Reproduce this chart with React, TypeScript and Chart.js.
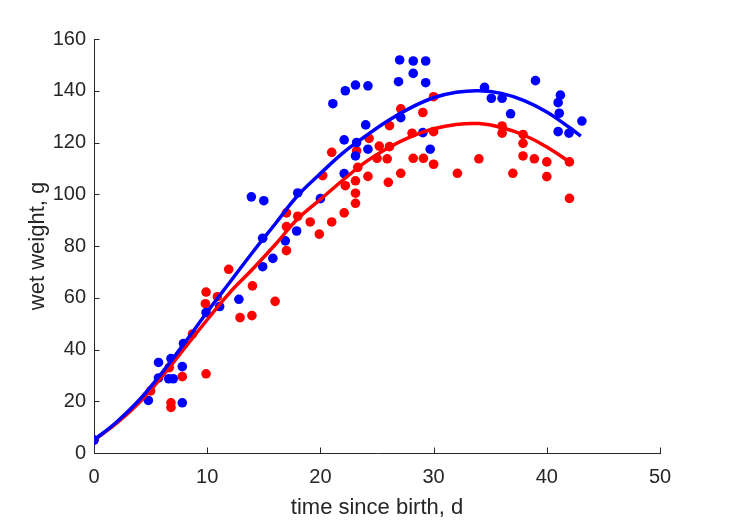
import React, { useEffect, useRef } from "react";
import { Chart, registerables } from "chart.js";

Chart.register(...registerables);

// Observed data: [time since birth (d), wet weight (g)]
const blueX = [0, 4.8, 5.7, 5.7, 6.6, 7.0, 6.8, 7.8, 7.8, 7.9, 9.9, 11.1, 12.8, 13.9, 15.0, 14.9, 14.9, 15.8, 16.9, 17.9, 18.0, 20.0, 21.1, 22.2, 23.1, 24.2, 24.0, 27.0, 28.2, 29.3, 28.2, 26.9, 29.3, 27.1, 29.05, 22.1, 23.2, 24.2, 23.1, 29.7, 22.1, 34.5, 35.1, 36.05, 39.0, 36.8, 41.2, 41.0, 41.1, 41.0, 41.96, 43.1];
const blueY = [5, 20.3, 35, 29, 28.7, 28.7, 36.5, 33.4, 19.4, 42.3, 54.3, 56.6, 59.4, 99, 97.5, 83, 72, 75.2, 82, 85.8, 100.5, 98.3, 135, 140, 142.2, 141.9, 126.8, 151.9, 151.5, 151.5, 146.7, 143.5, 143.1, 129.6, 123.8, 121, 120, 117.4, 114.8, 117.4, 108, 141.3, 137.1, 137.1, 143.9, 131.1, 138.3, 135.4, 131.3, 124.2, 123.6, 128.3];

const redX = [0, 5.0, 6.65, 6.8, 6.8, 7.8, 8.7, 9.9, 9.84, 10.9, 9.9, 11.9, 12.9, 13.95, 14.0, 16.0, 17.0, 17.0, 17.0, 18.0, 19.1, 19.9, 21.0, 22.1, 20.2, 21.0, 22.2, 23.1, 23.1, 23.1, 24.2, 23.3, 23.2, 24.3, 25.0, 25.2, 26.1, 25.9, 26.0, 27.1, 26.1, 27.1, 28.1, 28.2, 29.05, 29.1, 30.0, 30.0, 30.0, 32.1, 34.0, 36.05, 36.05, 37.0, 37.9, 37.9, 37.9, 38.9, 40.0, 40.0, 42.0, 42.0];
const redY = [5, 24, 33, 19.4, 17.6, 29.5, 46, 62.2, 57.7, 60.4, 30.6, 71, 52.3, 53.1, 64.6, 58.6, 92.8, 87.5, 78.2, 91.5, 89.3, 84.6, 89.3, 92.8, 107.2, 116.2, 103.3, 105.2, 100.4, 96.5, 106.9, 110.4, 116.8, 121.6, 113.9, 118.6, 118.4, 113.7, 104.6, 108.1, 126.5, 133, 123.6, 113.9, 131.6, 113.9, 137.7, 124.2, 111.6, 108.1, 113.7, 126.4, 123.6, 108.1, 123.1, 119.7, 114.8, 113.7, 112.5, 106.8, 112.5, 98.4];

// Fitted curves
const blueCurveX = [0, 2, 4, 6, 8, 10, 12, 14, 16, 18, 20, 22, 24, 26, 28, 30, 32, 34, 36, 38, 40, 42, 43];
const blueCurveY = [5, 12, 20.5, 31, 42.5, 54.5, 66, 77.5, 88.5, 99.5, 108, 116, 122.5, 128.5, 133.5, 137.3, 139.4, 140, 139, 136.2, 131.8, 125.8, 122.5];
const redCurveX = [0, 2, 4, 6, 8, 10, 12, 14, 16, 18, 20, 22, 24, 26, 28, 30, 32, 34, 36, 38, 40, 42];
const redCurveY = [5, 11.5, 19.5, 29.5, 40.5, 51.5, 62, 71, 80.5, 90.5, 98, 105.5, 112.5, 118, 122.3, 125.3, 127, 127.3, 125.8, 122.8, 118.3, 112.5];

const xTicks = [0, 10, 20, 30, 40, 50];
const yTicks = [0, 20, 40, 60, 80, 100, 120, 140, 160];

const zip = (xs: number[], ys: number[]) => xs.map((x, i) => ({ x, y: ys[i] }));

const AXIS = "#262626";
const FONT = "'Liberation Sans', Arial, Helvetica, sans-serif";

const inwardTicks = {
  id: "inwardTicks",
  afterDraw(chart: any) {
    const { ctx, chartArea, scales } = chart;
    const len = 5.5;
    ctx.save();
    ctx.strokeStyle = AXIS;
    ctx.lineWidth = 1;
    ctx.beginPath();
    scales.x.ticks.forEach((t: any) => {
      const px = Math.round(scales.x.getPixelForValue(t.value)) + 0.5;
      ctx.moveTo(px, chartArea.bottom);
      ctx.lineTo(px, chartArea.bottom - len);
    });
    scales.y.ticks.forEach((t: any) => {
      const py = Math.round(scales.y.getPixelForValue(t.value)) + 0.5;
      ctx.moveTo(chartArea.left, py);
      ctx.lineTo(chartArea.left + len, py);
    });
    ctx.stroke();
    ctx.restore();
  },
};

export default function App() {
  const ref = useRef<HTMLCanvasElement | null>(null);
  useEffect(() => {
    if (!ref.current) return;
    const chart = new Chart(ref.current, {
      type: "scatter",
      data: {
        datasets: [
          {
            label: "blue fit",
            data: zip(blueCurveX, blueCurveY),
            showLine: true,
            borderColor: "#0000FF",
            borderWidth: 3.5,
            pointRadius: 0,
            tension: 0.4,
            order: 0,
          },
          {
            label: "red fit",
            data: zip(redCurveX, redCurveY),
            showLine: true,
            borderColor: "#FF0000",
            borderWidth: 3.5,
            pointRadius: 0,
            tension: 0.4,
            order: 1,
          },
          {
            label: "blue data",
            data: zip(blueX, blueY),
            backgroundColor: "#0000FF",
            borderWidth: 0,
            pointRadius: 4.8,
            order: 2,
          },
          {
            label: "red data",
            data: zip(redX, redY),
            backgroundColor: "#FF0000",
            borderWidth: 0,
            pointRadius: 4.8,
            order: 3,
          },
        ],
      },
      options: {
        animation: false,
        responsive: false,
        events: [],
        layout: { padding: { top: 39, right: 69, left: 0, bottom: 0 } },
        plugins: { legend: { display: false }, tooltip: { enabled: false } },
        scales: {
          x: {
            type: "linear",
            min: 0,
            max: 50,
            afterFit: (s: any) => {
              s.height = 68;
            },
            afterBuildTicks: (s: any) => {
              s.ticks = xTicks.map((v) => ({ value: v }));
            },
            grid: { display: false, drawTicks: false },
            border: { display: true, color: AXIS, width: 1 },
            ticks: { color: AXIS, font: { family: FONT, size: 20 }, padding: 12, maxRotation: 0 },
            title: {
              display: true,
              text: "time since birth, d",
              color: AXIS,
              font: { family: FONT, size: 22 },
              padding: { top: 0, bottom: 0 },
            },
          },
          y: {
            type: "linear",
            min: 0,
            max: 160,
            afterFit: (s: any) => {
              s.width = 94;
            },
            afterBuildTicks: (s: any) => {
              s.ticks = yTicks.map((v) => ({ value: v }));
            },
            grid: { display: false, drawTicks: false },
            border: { display: true, color: AXIS, width: 1 },
            ticks: { color: AXIS, font: { family: FONT, size: 20 }, padding: 8 },
            title: {
              display: true,
              text: "wet weight, g",
              color: AXIS,
              font: { family: FONT, size: 22 },
              padding: { top: 25, bottom: 0 },
            },
          },
        },
      },
      plugins: [inwardTicks],
    } as any);
    return () => chart.destroy();
  }, []);
  return (
    <div style={{ position: "fixed", left: 0, top: 0, width: 729, height: 521, background: "#fff" }}>
      <canvas ref={ref} width={729} height={521} />
    </div>
  );
}
